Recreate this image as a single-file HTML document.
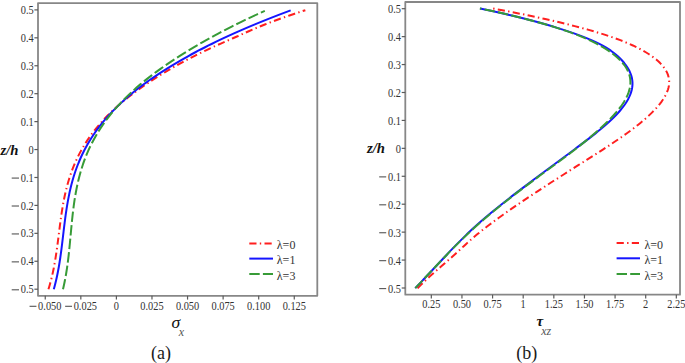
<!DOCTYPE html>
<html><head><meta charset="utf-8"><style>
html,body{margin:0;padding:0;background:#fff;width:685px;height:363px;overflow:hidden}
svg{display:block}
text{font-family:"Liberation Serif",serif;fill:#333}
.tk{font-size:11.5px}
.lg{font-size:12px}
.zh{font-size:15.5px;font-weight:bold;font-style:italic;fill:#111}
.sig{font-size:16px;font-style:italic;fill:#111}
.tau{font-size:15px;font-style:italic;font-weight:bold;fill:#111}
.sub{font-size:12px;font-style:italic;fill:#555}
.cap{font-size:18px;fill:#1a1a1a}
</style></head><body>
<svg width="685" height="363" viewBox="0 0 685 363">
<path d="M38.00 295.80 V3.10 H317.30 V295.80 Z" fill="none" stroke="#878787" stroke-width="1.8" stroke-linejoin="round"/>
<line x1="34.40" y1="289.20" x2="38.00" y2="289.20" stroke="#5a5a5a" stroke-width="1.2"/>
<text transform="translate(33.70 293.30) scale(0.900 1)" text-anchor="end" class="tk">0.5</text>
<rect x="11.70" y="289.25" width="7.30" height="1.10" fill="#555"/>
<line x1="34.40" y1="261.27" x2="38.00" y2="261.27" stroke="#5a5a5a" stroke-width="1.2"/>
<text transform="translate(33.70 265.37) scale(0.900 1)" text-anchor="end" class="tk">0.4</text>
<rect x="11.70" y="261.32" width="7.30" height="1.10" fill="#555"/>
<line x1="34.40" y1="233.34" x2="38.00" y2="233.34" stroke="#5a5a5a" stroke-width="1.2"/>
<text transform="translate(33.70 237.44) scale(0.900 1)" text-anchor="end" class="tk">0.3</text>
<rect x="11.70" y="233.39" width="7.30" height="1.10" fill="#555"/>
<line x1="34.40" y1="205.41" x2="38.00" y2="205.41" stroke="#5a5a5a" stroke-width="1.2"/>
<text transform="translate(33.70 209.51) scale(0.900 1)" text-anchor="end" class="tk">0.2</text>
<rect x="11.70" y="205.46" width="7.30" height="1.10" fill="#555"/>
<line x1="34.40" y1="177.48" x2="38.00" y2="177.48" stroke="#5a5a5a" stroke-width="1.2"/>
<text transform="translate(33.70 181.58) scale(0.900 1)" text-anchor="end" class="tk">0.1</text>
<rect x="11.70" y="177.53" width="7.30" height="1.10" fill="#555"/>
<line x1="34.40" y1="149.55" x2="38.00" y2="149.55" stroke="#5a5a5a" stroke-width="1.2"/>
<text transform="translate(33.70 153.65) scale(0.900 1)" text-anchor="end" class="tk">0</text>
<line x1="34.40" y1="121.62" x2="38.00" y2="121.62" stroke="#5a5a5a" stroke-width="1.2"/>
<text transform="translate(33.70 125.72) scale(0.900 1)" text-anchor="end" class="tk">0.1</text>
<line x1="34.40" y1="93.69" x2="38.00" y2="93.69" stroke="#5a5a5a" stroke-width="1.2"/>
<text transform="translate(33.70 97.79) scale(0.900 1)" text-anchor="end" class="tk">0.2</text>
<line x1="34.40" y1="65.76" x2="38.00" y2="65.76" stroke="#5a5a5a" stroke-width="1.2"/>
<text transform="translate(33.70 69.86) scale(0.900 1)" text-anchor="end" class="tk">0.3</text>
<line x1="34.40" y1="37.83" x2="38.00" y2="37.83" stroke="#5a5a5a" stroke-width="1.2"/>
<text transform="translate(33.70 41.93) scale(0.900 1)" text-anchor="end" class="tk">0.4</text>
<line x1="34.40" y1="9.90" x2="38.00" y2="9.90" stroke="#5a5a5a" stroke-width="1.2"/>
<text transform="translate(33.70 14.00) scale(0.900 1)" text-anchor="end" class="tk">0.5</text>
<line x1="45.25" y1="295.80" x2="45.25" y2="299.60" stroke="#5a5a5a" stroke-width="1.2"/>
<rect x="29.55" y="305.75" width="6.90" height="1.10" fill="#555"/>
<text transform="translate(49.75 309.60) scale(0.900 1)" text-anchor="middle" class="tk">0.050</text>
<line x1="80.83" y1="295.80" x2="80.83" y2="299.60" stroke="#5a5a5a" stroke-width="1.2"/>
<rect x="65.13" y="305.75" width="6.90" height="1.10" fill="#555"/>
<text transform="translate(85.33 309.60) scale(0.900 1)" text-anchor="middle" class="tk">0.025</text>
<line x1="116.40" y1="295.80" x2="116.40" y2="299.60" stroke="#5a5a5a" stroke-width="1.2"/>
<text transform="translate(116.40 309.60) scale(0.900 1)" text-anchor="middle" class="tk">0</text>
<line x1="151.98" y1="295.80" x2="151.98" y2="299.60" stroke="#5a5a5a" stroke-width="1.2"/>
<text transform="translate(151.98 309.60) scale(0.900 1)" text-anchor="middle" class="tk">0.025</text>
<line x1="187.55" y1="295.80" x2="187.55" y2="299.60" stroke="#5a5a5a" stroke-width="1.2"/>
<text transform="translate(187.55 309.60) scale(0.900 1)" text-anchor="middle" class="tk">0.050</text>
<line x1="223.12" y1="295.80" x2="223.12" y2="299.60" stroke="#5a5a5a" stroke-width="1.2"/>
<text transform="translate(223.12 309.60) scale(0.900 1)" text-anchor="middle" class="tk">0.075</text>
<line x1="258.70" y1="295.80" x2="258.70" y2="299.60" stroke="#5a5a5a" stroke-width="1.2"/>
<text transform="translate(258.70 309.60) scale(0.900 1)" text-anchor="middle" class="tk">0.100</text>
<line x1="294.27" y1="295.80" x2="294.27" y2="299.60" stroke="#5a5a5a" stroke-width="1.2"/>
<text transform="translate(294.27 309.60) scale(0.900 1)" text-anchor="middle" class="tk">0.125</text>
<path d="M405.30 294.70 V2.00 H680.00 V294.70 Z" fill="none" stroke="#878787" stroke-width="1.8" stroke-linejoin="round"/>
<line x1="401.70" y1="288.00" x2="405.30" y2="288.00" stroke="#5a5a5a" stroke-width="1.2"/>
<text transform="translate(401.00 292.60) scale(0.900 1)" text-anchor="end" class="tk">0.5</text>
<rect x="379.20" y="288.05" width="7.00" height="1.10" fill="#555"/>
<line x1="401.70" y1="260.07" x2="405.30" y2="260.07" stroke="#5a5a5a" stroke-width="1.2"/>
<text transform="translate(401.00 264.67) scale(0.900 1)" text-anchor="end" class="tk">0.4</text>
<rect x="379.20" y="260.12" width="7.00" height="1.10" fill="#555"/>
<line x1="401.70" y1="232.14" x2="405.30" y2="232.14" stroke="#5a5a5a" stroke-width="1.2"/>
<text transform="translate(401.00 236.74) scale(0.900 1)" text-anchor="end" class="tk">0.3</text>
<rect x="379.20" y="232.19" width="7.00" height="1.10" fill="#555"/>
<line x1="401.70" y1="204.21" x2="405.30" y2="204.21" stroke="#5a5a5a" stroke-width="1.2"/>
<text transform="translate(401.00 208.81) scale(0.900 1)" text-anchor="end" class="tk">0.2</text>
<rect x="379.20" y="204.26" width="7.00" height="1.10" fill="#555"/>
<line x1="401.70" y1="176.28" x2="405.30" y2="176.28" stroke="#5a5a5a" stroke-width="1.2"/>
<text transform="translate(401.00 180.88) scale(0.900 1)" text-anchor="end" class="tk">0.1</text>
<rect x="379.20" y="176.33" width="7.00" height="1.10" fill="#555"/>
<line x1="401.70" y1="148.35" x2="405.30" y2="148.35" stroke="#5a5a5a" stroke-width="1.2"/>
<text transform="translate(401.00 152.95) scale(0.900 1)" text-anchor="end" class="tk">0</text>
<line x1="401.70" y1="120.42" x2="405.30" y2="120.42" stroke="#5a5a5a" stroke-width="1.2"/>
<text transform="translate(401.00 125.02) scale(0.900 1)" text-anchor="end" class="tk">0.1</text>
<line x1="401.70" y1="92.49" x2="405.30" y2="92.49" stroke="#5a5a5a" stroke-width="1.2"/>
<text transform="translate(401.00 97.09) scale(0.900 1)" text-anchor="end" class="tk">0.2</text>
<line x1="401.70" y1="64.56" x2="405.30" y2="64.56" stroke="#5a5a5a" stroke-width="1.2"/>
<text transform="translate(401.00 69.16) scale(0.900 1)" text-anchor="end" class="tk">0.3</text>
<line x1="401.70" y1="36.63" x2="405.30" y2="36.63" stroke="#5a5a5a" stroke-width="1.2"/>
<text transform="translate(401.00 41.23) scale(0.900 1)" text-anchor="end" class="tk">0.4</text>
<line x1="401.70" y1="8.70" x2="405.30" y2="8.70" stroke="#5a5a5a" stroke-width="1.2"/>
<text transform="translate(401.00 13.30) scale(0.900 1)" text-anchor="end" class="tk">0.5</text>
<line x1="431.32" y1="294.70" x2="431.32" y2="298.50" stroke="#5a5a5a" stroke-width="1.2"/>
<text transform="translate(431.32 308.30) scale(0.900 1)" text-anchor="middle" class="tk">0.25</text>
<line x1="461.95" y1="294.70" x2="461.95" y2="298.50" stroke="#5a5a5a" stroke-width="1.2"/>
<text transform="translate(461.95 308.30) scale(0.900 1)" text-anchor="middle" class="tk">0.50</text>
<line x1="492.57" y1="294.70" x2="492.57" y2="298.50" stroke="#5a5a5a" stroke-width="1.2"/>
<text transform="translate(492.57 308.30) scale(0.900 1)" text-anchor="middle" class="tk">0.75</text>
<line x1="523.20" y1="294.70" x2="523.20" y2="298.50" stroke="#5a5a5a" stroke-width="1.2"/>
<text transform="translate(523.20 308.30) scale(0.900 1)" text-anchor="middle" class="tk">1</text>
<line x1="553.83" y1="294.70" x2="553.83" y2="298.50" stroke="#5a5a5a" stroke-width="1.2"/>
<text transform="translate(553.83 308.30) scale(0.900 1)" text-anchor="middle" class="tk">1.25</text>
<line x1="584.45" y1="294.70" x2="584.45" y2="298.50" stroke="#5a5a5a" stroke-width="1.2"/>
<text transform="translate(584.45 308.30) scale(0.900 1)" text-anchor="middle" class="tk">1.50</text>
<line x1="615.08" y1="294.70" x2="615.08" y2="298.50" stroke="#5a5a5a" stroke-width="1.2"/>
<text transform="translate(615.08 308.30) scale(0.900 1)" text-anchor="middle" class="tk">1.75</text>
<line x1="645.70" y1="294.70" x2="645.70" y2="298.50" stroke="#5a5a5a" stroke-width="1.2"/>
<text transform="translate(645.70 308.30) scale(0.900 1)" text-anchor="middle" class="tk">2</text>
<line x1="676.33" y1="294.70" x2="676.33" y2="298.50" stroke="#5a5a5a" stroke-width="1.2"/>
<text transform="translate(676.33 308.30) scale(0.900 1)" text-anchor="middle" class="tk">2.25</text>
<path d="M48.44 289.30 L48.98 287.54 L49.50 285.79 L50.00 284.03 L50.48 282.28 L50.94 280.52 L51.39 278.77 L51.82 277.01 L52.23 275.26 L52.63 273.50 L53.01 271.75 L53.37 269.99 L53.73 268.24 L54.07 266.48 L54.40 264.73 L54.71 262.97 L55.02 261.21 L55.31 259.46 L55.60 257.70 L55.87 255.95 L56.14 254.19 L56.40 252.44 L56.66 250.68 L56.90 248.93 L57.14 247.17 L57.38 245.42 L57.61 243.66 L57.84 241.91 L58.06 240.15 L58.29 238.39 L58.51 236.64 L58.73 234.88 L58.95 233.13 L59.16 231.37 L59.39 229.62 L59.61 227.86 L59.83 226.11 L60.06 224.35 L60.29 222.60 L60.53 220.84 L60.77 219.09 L61.01 217.33 L61.26 215.58 L61.52 213.82 L61.79 212.06 L62.06 210.31 L62.35 208.55 L62.64 206.80 L62.95 205.04 L63.26 203.29 L63.59 201.53 L63.93 199.78 L64.28 198.02 L64.64 196.27 L65.02 194.51 L65.42 192.76 L65.83 191.00 L66.25 189.25 L66.70 187.49 L67.16 185.73 L67.64 183.98 L68.13 182.22 L68.65 180.47 L69.19 178.71 L69.75 176.96 L70.33 175.20 L70.93 173.45 L71.56 171.69 L72.21 169.94 L72.88 168.18 L73.58 166.43 L74.30 164.67 L75.05 162.92 L75.83 161.16 L76.63 159.40 L77.47 157.65 L78.33 155.89 L79.22 154.14 L80.14 152.38 L81.10 150.63 L82.08 148.87 L83.10 147.12 L84.15 145.36 L85.23 143.61 L86.35 141.85 L87.50 140.10 L88.69 138.34 L89.91 136.58 L91.17 134.83 L92.47 133.07 L93.81 131.32 L95.18 129.56 L96.60 127.81 L98.06 126.05 L99.55 124.30 L101.09 122.54 L102.67 120.79 L104.29 119.03 L105.96 117.28 L107.67 115.52 L109.43 113.77 L111.23 112.01 L113.08 110.25 L114.97 108.50 L116.91 106.74 L118.91 104.99 L120.94 103.23 L123.03 101.48 L125.17 99.72 L127.36 97.97 L129.59 96.21 L131.87 94.46 L134.20 92.70 L136.59 90.95 L139.01 89.19 L141.49 87.44 L144.02 85.68 L146.59 83.92 L149.21 82.17 L151.88 80.41 L154.60 78.66 L157.36 76.90 L160.18 75.15 L163.04 73.39 L165.95 71.64 L168.91 69.88 L171.93 68.13 L175.00 66.37 L178.13 64.62 L181.32 62.86 L184.57 61.11 L187.89 59.35 L191.26 57.59 L194.71 55.84 L198.22 54.08 L201.80 52.33 L205.45 50.57 L209.18 48.82 L212.98 47.06 L216.86 45.31 L220.81 43.55 L224.84 41.80 L228.89 40.04 L232.93 38.29 L236.91 36.53 L240.85 34.77 L244.78 33.02 L248.74 31.26 L252.76 29.51 L256.87 27.75 L261.10 26.00 L265.46 24.24 L269.98 22.49 L274.64 20.73 L279.44 18.98 L284.38 17.22 L289.45 15.47 L294.64 13.71 L299.94 11.96 L305.35 10.20" fill="none" stroke="#ff1f1f" stroke-width="2.00" stroke-dasharray="7.2 3.3 1.4 3.3" stroke-dashoffset="0" stroke-linecap="butt" stroke-linejoin="round"/>
<path d="M53.79 289.30 L54.28 287.55 L54.74 285.79 L55.20 284.04 L55.63 282.28 L56.05 280.53 L56.45 278.78 L56.84 277.02 L57.21 275.27 L57.57 273.51 L57.91 271.76 L58.25 270.01 L58.57 268.25 L58.88 266.50 L59.18 264.74 L59.47 262.99 L59.74 261.23 L60.01 259.48 L60.28 257.73 L60.53 255.97 L60.78 254.22 L61.02 252.46 L61.25 250.71 L61.48 248.96 L61.70 247.20 L61.92 245.45 L62.14 243.69 L62.35 241.94 L62.56 240.19 L62.77 238.43 L62.97 236.68 L63.18 234.92 L63.39 233.17 L63.59 231.42 L63.80 229.66 L64.01 227.91 L64.22 226.15 L64.44 224.40 L64.66 222.64 L64.88 220.89 L65.11 219.14 L65.34 217.38 L65.58 215.63 L65.82 213.87 L66.08 212.12 L66.34 210.37 L66.61 208.61 L66.88 206.86 L67.17 205.10 L67.47 203.35 L67.78 201.60 L68.10 199.84 L68.43 198.09 L68.77 196.33 L69.13 194.58 L69.50 192.83 L69.88 191.07 L70.28 189.32 L70.70 187.56 L71.13 185.81 L71.58 184.05 L72.05 182.30 L72.53 180.55 L73.03 178.79 L73.55 177.04 L74.10 175.28 L74.66 173.53 L75.24 171.78 L75.84 170.02 L76.47 168.27 L77.12 166.51 L77.79 164.76 L78.49 163.01 L79.21 161.25 L79.96 159.50 L80.73 157.74 L81.52 155.99 L82.35 154.24 L83.20 152.48 L84.08 150.73 L84.99 148.97 L85.93 147.22 L86.90 145.46 L87.90 143.71 L88.93 141.96 L89.99 140.20 L91.09 138.45 L92.21 136.69 L93.38 134.94 L94.57 133.19 L95.80 131.43 L97.07 129.68 L98.37 127.92 L99.70 126.17 L101.08 124.42 L102.49 122.66 L103.94 120.91 L105.43 119.15 L106.96 117.40 L108.53 115.65 L110.14 113.89 L111.79 112.14 L113.48 110.38 L115.21 108.63 L116.99 106.87 L118.80 105.12 L120.66 103.37 L122.56 101.61 L124.51 99.86 L126.50 98.10 L128.53 96.35 L130.61 94.60 L132.73 92.84 L134.90 91.09 L137.12 89.33 L139.38 87.58 L141.68 85.83 L144.04 84.07 L146.44 82.32 L148.89 80.56 L151.39 78.81 L153.93 77.06 L156.53 75.30 L159.17 73.55 L161.87 71.79 L164.61 70.04 L167.41 68.28 L170.25 66.53 L173.15 64.78 L176.10 63.02 L179.10 61.27 L182.16 59.51 L185.27 57.76 L188.43 56.01 L191.64 54.25 L194.91 52.50 L198.23 50.74 L201.61 48.99 L205.05 47.24 L208.53 45.48 L212.08 43.73 L215.68 41.97 L219.34 40.22 L223.06 38.47 L226.83 36.71 L230.67 34.96 L234.56 33.20 L238.51 31.45 L242.52 29.69 L246.59 27.94 L250.72 26.19 L254.91 24.43 L259.16 22.68 L263.47 20.92 L267.85 19.17 L272.28 17.42 L276.78 15.66 L281.34 13.91 L285.97 12.15 L290.66 10.40" fill="none" stroke="#1515ff" stroke-width="2.00" stroke-linecap="butt" stroke-linejoin="round"/>
<path d="M62.99 289.30 L63.40 287.55 L63.79 285.80 L64.17 284.05 L64.54 282.29 L64.88 280.54 L65.22 278.79 L65.54 277.04 L65.85 275.29 L66.15 273.54 L66.43 271.78 L66.71 270.03 L66.97 268.28 L67.22 266.53 L67.47 264.78 L67.70 263.03 L67.93 261.27 L68.14 259.52 L68.35 257.77 L68.56 256.02 L68.75 254.27 L68.94 252.52 L69.13 250.77 L69.31 249.01 L69.49 247.26 L69.66 245.51 L69.83 243.76 L70.00 242.01 L70.16 240.26 L70.32 238.50 L70.49 236.75 L70.65 235.00 L70.81 233.25 L70.97 231.50 L71.13 229.75 L71.30 227.99 L71.47 226.24 L71.64 224.49 L71.81 222.74 L71.98 220.99 L72.16 219.24 L72.35 217.49 L72.54 215.73 L72.74 213.98 L72.94 212.23 L73.15 210.48 L73.37 208.73 L73.59 206.98 L73.82 205.22 L74.07 203.47 L74.32 201.72 L74.58 199.97 L74.85 198.22 L75.14 196.47 L75.43 194.72 L75.74 192.96 L76.06 191.21 L76.40 189.46 L76.74 187.71 L77.11 185.96 L77.48 184.21 L77.87 182.45 L78.28 180.70 L78.71 178.95 L79.15 177.20 L79.61 175.45 L80.09 173.70 L80.58 171.94 L81.10 170.19 L81.63 168.44 L82.19 166.69 L82.76 164.94 L83.36 163.19 L83.98 161.44 L84.62 159.68 L85.28 157.93 L85.97 156.18 L86.68 154.43 L87.42 152.68 L88.18 150.93 L88.96 149.17 L89.78 147.42 L90.62 145.67 L91.48 143.92 L92.38 142.17 L93.30 140.42 L94.25 138.66 L95.23 136.91 L96.24 135.16 L97.28 133.41 L98.35 131.66 L99.45 129.91 L100.58 128.16 L101.75 126.40 L102.95 124.65 L104.18 122.90 L105.44 121.15 L106.74 119.40 L108.07 117.65 L109.43 115.89 L110.83 114.14 L112.27 112.39 L113.74 110.64 L115.25 108.89 L116.79 107.14 L118.37 105.38 L119.99 103.63 L121.65 101.88 L123.34 100.13 L125.07 98.38 L126.85 96.63 L128.66 94.88 L130.51 93.12 L132.40 91.37 L134.33 89.62 L136.30 87.87 L138.31 86.12 L140.37 84.37 L142.47 82.61 L144.61 80.86 L146.80 79.11 L149.03 77.36 L151.30 75.61 L153.62 73.86 L155.98 72.11 L158.38 70.35 L160.82 68.60 L163.31 66.85 L165.83 65.10 L168.40 63.35 L171.00 61.60 L173.65 59.84 L176.33 58.09 L179.06 56.34 L181.82 54.59 L184.62 52.84 L187.46 51.09 L190.35 49.33 L193.27 47.58 L196.24 45.83 L199.24 44.08 L202.29 42.33 L205.38 40.58 L208.52 38.83 L211.70 37.07 L214.92 35.32 L218.19 33.57 L221.50 31.82 L224.85 30.07 L228.25 28.32 L231.70 26.56 L235.19 24.81 L238.73 23.06 L242.31 21.31 L245.94 19.56 L249.62 17.81 L253.35 16.05 L257.13 14.30 L260.95 12.55 L264.82 10.80" fill="none" stroke="#379b37" stroke-width="2.00" stroke-dasharray="10.4 3.2" stroke-dashoffset="0" stroke-linecap="butt" stroke-linejoin="round"/>
<path d="M417.56 288.40 L419.22 286.64 L420.93 284.88 L422.70 283.12 L424.51 281.36 L426.37 279.60 L428.26 277.84 L430.19 276.08 L432.15 274.32 L434.13 272.56 L436.13 270.80 L438.14 269.04 L440.17 267.28 L442.19 265.52 L444.22 263.75 L446.25 261.99 L448.26 260.23 L450.26 258.47 L452.24 256.71 L454.20 254.95 L456.13 253.19 L458.04 251.43 L459.94 249.67 L461.84 247.91 L463.74 246.15 L465.66 244.39 L467.59 242.63 L469.56 240.87 L471.57 239.11 L473.62 237.35 L475.71 235.59 L477.84 233.83 L480.01 232.07 L482.21 230.31 L484.45 228.55 L486.73 226.79 L489.03 225.03 L491.37 223.27 L493.73 221.51 L496.13 219.75 L498.54 217.98 L500.99 216.22 L503.45 214.46 L505.94 212.70 L508.45 210.94 L510.98 209.18 L513.52 207.42 L516.08 205.66 L518.66 203.90 L521.25 202.14 L523.86 200.38 L526.49 198.62 L529.12 196.86 L531.77 195.10 L534.44 193.34 L537.11 191.58 L539.80 189.82 L542.50 188.06 L545.21 186.30 L547.93 184.54 L550.65 182.78 L553.39 181.02 L556.13 179.26 L558.89 177.50 L561.65 175.74 L564.41 173.98 L567.18 172.22 L569.96 170.45 L572.74 168.69 L575.52 166.93 L578.31 165.17 L581.10 163.41 L583.89 161.65 L586.68 159.89 L589.46 158.13 L592.24 156.37 L595.01 154.61 L597.76 152.85 L600.50 151.09 L603.23 149.33 L605.93 147.57 L608.62 145.81 L611.28 144.05 L613.91 142.29 L616.51 140.53 L619.08 138.77 L621.62 137.01 L624.12 135.25 L626.58 133.49 L629.00 131.73 L631.38 129.97 L633.71 128.21 L635.99 126.45 L638.22 124.68 L640.40 122.92 L642.52 121.16 L644.58 119.40 L646.58 117.64 L648.51 115.88 L650.38 114.12 L652.18 112.36 L653.91 110.60 L655.57 108.84 L657.15 107.08 L658.65 105.32 L660.07 103.56 L661.41 101.80 L662.65 100.04 L663.80 98.28 L664.86 96.52 L665.81 94.76 L666.65 93.00 L667.38 91.24 L667.99 89.48 L668.48 87.72 L668.85 85.96 L669.08 84.20 L669.18 82.44 L669.14 80.68 L668.96 78.92 L668.62 77.15 L668.14 75.39 L667.49 73.63 L666.69 71.87 L665.72 70.11 L664.58 68.35 L663.27 66.59 L661.79 64.83 L660.12 63.07 L658.28 61.31 L656.25 59.55 L654.03 57.79 L651.62 56.03 L649.01 54.27 L646.21 52.51 L643.20 50.75 L639.99 48.99 L636.55 47.23 L632.87 45.47 L628.95 43.71 L624.77 41.95 L620.33 40.19 L615.60 38.43 L610.60 36.67 L605.31 34.91 L599.75 33.15 L593.91 31.38 L587.78 29.62 L581.37 27.86 L574.68 26.10 L567.71 24.34 L560.46 22.58 L552.95 20.82 L545.17 19.06 L537.16 17.30 L528.92 15.54 L520.43 13.78 L511.62 12.02 L502.36 10.26 L492.56 8.50" fill="none" stroke="#ff1f1f" stroke-width="2.00" stroke-dasharray="7.2 3.3 1.4 3.3" stroke-dashoffset="0" stroke-linecap="butt" stroke-linejoin="round"/>
<path d="M415.22 288.10 L416.94 286.34 L418.65 284.58 L420.34 282.82 L422.03 281.07 L423.71 279.31 L425.37 277.55 L427.03 275.79 L428.69 274.03 L430.34 272.27 L431.98 270.52 L433.62 268.76 L435.26 267.00 L436.90 265.24 L438.54 263.48 L440.18 261.72 L441.83 259.96 L443.48 258.21 L445.13 256.45 L446.79 254.69 L448.46 252.93 L450.14 251.17 L451.82 249.41 L453.52 247.65 L455.23 245.90 L456.95 244.14 L458.69 242.38 L460.45 240.62 L462.22 238.86 L464.01 237.10 L465.81 235.35 L467.64 233.59 L469.49 231.83 L471.37 230.07 L473.26 228.31 L475.18 226.55 L477.13 224.79 L479.11 223.04 L481.11 221.28 L483.13 219.52 L485.18 217.76 L487.26 216.00 L489.35 214.24 L491.47 212.48 L493.61 210.73 L495.77 208.97 L497.94 207.21 L500.14 205.45 L502.35 203.69 L504.58 201.93 L506.82 200.18 L509.07 198.42 L511.34 196.66 L513.62 194.90 L515.92 193.14 L518.22 191.38 L520.53 189.62 L522.85 187.87 L525.18 186.11 L527.51 184.35 L529.85 182.59 L532.19 180.83 L534.54 179.07 L536.89 177.32 L539.25 175.56 L541.60 173.80 L543.96 172.04 L546.32 170.28 L548.69 168.52 L551.05 166.76 L553.42 165.01 L555.78 163.25 L558.15 161.49 L560.52 159.73 L562.89 157.97 L565.26 156.21 L567.63 154.45 L570.00 152.70 L572.37 150.94 L574.74 149.18 L577.11 147.42 L579.47 145.66 L581.82 143.90 L584.16 142.15 L586.48 140.39 L588.78 138.63 L591.06 136.87 L593.32 135.11 L595.54 133.35 L597.73 131.59 L599.89 129.84 L602.00 128.08 L604.07 126.32 L606.09 124.56 L608.07 122.80 L609.98 121.04 L611.84 119.28 L613.64 117.53 L615.38 115.77 L617.05 114.01 L618.65 112.25 L620.18 110.49 L621.63 108.73 L623.01 106.98 L624.30 105.22 L625.51 103.46 L626.64 101.70 L627.67 99.94 L628.62 98.18 L629.46 96.42 L630.21 94.67 L630.86 92.91 L631.40 91.15 L631.84 89.39 L632.17 87.63 L632.38 85.87 L632.48 84.12 L632.46 82.36 L632.32 80.60 L632.06 78.84 L631.67 77.08 L631.17 75.32 L630.54 73.56 L629.80 71.81 L628.93 70.05 L627.93 68.29 L626.82 66.53 L625.58 64.77 L624.23 63.01 L622.74 61.25 L621.14 59.50 L619.41 57.74 L617.53 55.98 L615.49 54.22 L613.27 52.46 L610.86 50.70 L608.23 48.95 L605.37 47.19 L602.27 45.43 L598.90 43.67 L595.26 41.91 L591.37 40.15 L587.22 38.39 L582.82 36.64 L578.17 34.88 L573.28 33.12 L568.15 31.36 L562.79 29.60 L557.20 27.84 L551.39 26.08 L545.36 24.33 L539.11 22.57 L532.63 20.81 L525.91 19.05 L518.95 17.29 L511.74 15.53 L504.28 13.78 L496.53 12.02 L488.47 10.26 L480.07 8.50" fill="none" stroke="#1515ff" stroke-width="2.00" stroke-linecap="butt" stroke-linejoin="round"/>
<path d="M415.29 288.10 L416.97 286.34 L418.65 284.58 L420.31 282.82 L421.98 281.07 L423.64 279.31 L425.29 277.55 L426.95 275.79 L428.60 274.03 L430.25 272.27 L431.90 270.52 L433.55 268.76 L435.20 267.00 L436.85 265.24 L438.51 263.48 L440.17 261.72 L441.84 259.96 L443.51 258.21 L445.19 256.45 L446.88 254.69 L448.58 252.93 L450.28 251.17 L452.00 249.41 L453.73 247.65 L455.47 245.90 L457.23 244.14 L458.99 242.38 L460.78 240.62 L462.58 238.86 L464.40 237.10 L466.23 235.35 L468.08 233.59 L469.96 231.83 L471.85 230.07 L473.77 228.31 L475.71 226.55 L477.67 224.79 L479.65 223.04 L481.66 221.28 L483.69 219.52 L485.74 217.76 L487.82 216.00 L489.91 214.24 L492.03 212.48 L494.16 210.73 L496.32 208.97 L498.49 207.21 L500.68 205.45 L502.88 203.69 L505.11 201.93 L507.34 200.18 L509.60 198.42 L511.86 196.66 L514.15 194.90 L516.44 193.14 L518.75 191.38 L521.07 189.62 L523.40 187.87 L525.74 186.11 L528.09 184.35 L530.44 182.59 L532.81 180.83 L535.19 179.07 L537.57 177.32 L539.96 175.56 L542.35 173.80 L544.74 172.04 L547.14 170.28 L549.53 168.52 L551.92 166.76 L554.31 165.01 L556.69 163.25 L559.06 161.49 L561.43 159.73 L563.78 157.97 L566.13 156.21 L568.46 154.45 L570.77 152.70 L573.07 150.94 L575.35 149.18 L577.61 147.42 L579.85 145.66 L582.07 143.90 L584.26 142.15 L586.42 140.39 L588.56 138.63 L590.67 136.87 L592.75 135.11 L594.80 133.35 L596.82 131.59 L598.79 129.84 L600.74 128.08 L602.64 126.32 L604.51 124.56 L606.33 122.80 L608.11 121.04 L609.84 119.28 L611.53 117.53 L613.17 115.77 L614.76 114.01 L616.29 112.25 L617.75 110.49 L619.16 108.73 L620.50 106.98 L621.77 105.22 L622.96 103.46 L624.08 101.70 L625.12 99.94 L626.08 98.18 L626.95 96.42 L627.73 94.67 L628.42 92.91 L629.01 91.15 L629.50 89.39 L629.89 87.63 L630.18 85.87 L630.35 84.12 L630.41 82.36 L630.35 80.60 L630.18 78.84 L629.88 77.08 L629.46 75.32 L628.90 73.56 L628.22 71.81 L627.40 70.05 L626.44 68.29 L625.33 66.53 L624.08 64.77 L622.68 63.01 L621.13 61.25 L619.43 59.50 L617.56 57.74 L615.53 55.98 L613.34 54.22 L610.98 52.46 L608.44 50.70 L605.73 48.95 L602.84 47.19 L599.77 45.43 L596.51 43.67 L593.06 41.91 L589.40 40.15 L585.52 38.39 L581.41 36.64 L577.06 34.88 L572.45 33.12 L567.57 31.36 L562.42 29.60 L556.98 27.84 L551.23 26.08 L545.18 24.33 L538.86 22.57 L532.34 20.81 L525.70 19.05 L518.90 17.29 L511.89 15.53 L504.60 13.78 L496.91 12.02 L488.70 10.26 L479.83 8.50" fill="none" stroke="#379b37" stroke-width="2.00" stroke-dasharray="10.4 3.2" stroke-dashoffset="0" stroke-linecap="butt" stroke-linejoin="round"/>
<line x1="249.30" y1="243.60" x2="273.00" y2="243.60" stroke="#ff1f1f" stroke-width="2" stroke-dasharray="7.2 3.3 1.4 3.3"/>
<line x1="249.30" y1="258.60" x2="273.00" y2="258.60" stroke="#1515ff" stroke-width="2"/>
<line x1="249.30" y1="274.00" x2="273.00" y2="274.00" stroke="#379b37" stroke-width="2" stroke-dasharray="10.4 3.2"/>
<text transform="translate(276.80 249.20) scale(1.000 1)" text-anchor="start" class="lg">λ=0</text>
<text transform="translate(276.80 264.20) scale(1.000 1)" text-anchor="start" class="lg">λ=1</text>
<text transform="translate(276.80 279.60) scale(1.000 1)" text-anchor="start" class="lg">λ=3</text>
<line x1="616.60" y1="243.00" x2="640.00" y2="243.00" stroke="#ff1f1f" stroke-width="2" stroke-dasharray="7.2 3.3 1.4 3.3"/>
<line x1="616.60" y1="258.30" x2="640.00" y2="258.30" stroke="#1515ff" stroke-width="2"/>
<line x1="616.60" y1="274.10" x2="640.00" y2="274.10" stroke="#379b37" stroke-width="2" stroke-dasharray="10.4 3.2"/>
<text transform="translate(644.40 248.60) scale(1.000 1)" text-anchor="start" class="lg">λ=0</text>
<text transform="translate(644.40 263.90) scale(1.000 1)" text-anchor="start" class="lg">λ=1</text>
<text transform="translate(644.40 279.70) scale(1.000 1)" text-anchor="start" class="lg">λ=3</text>
<text transform="translate(0.4 154.6) scale(0.95 1)" class="zh">z/h</text>
<text transform="translate(366.9 153.1) scale(0.95 1)" class="zh">z/h</text>
<text transform="translate(171.6 328.3) scale(1.1 1)" class="sig">σ</text>
<text x="178.8" y="335.8" class="sub">x</text>
<text x="536.6" y="326.2" class="tau">τ</text>
<text x="541.2" y="334.5" class="sub">xz</text>
<text x="151.0" y="358.7" class="cap">(a)</text>
<text x="516.3" y="358.7" class="cap">(b)</text>
</svg>
</body></html>
